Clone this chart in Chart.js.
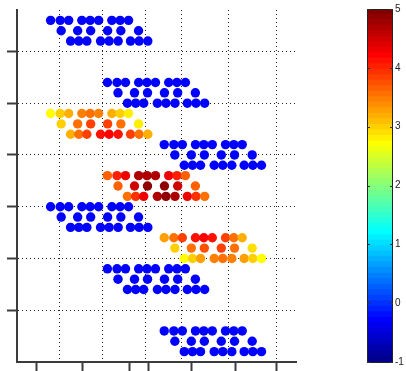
<!DOCTYPE html>
<html>
<head>
  <meta charset="UTF-8">
  <title>Blocks</title>
  <script src="https://cdn.jsdelivr.net/npm/chart.js"></script>
  <style>
    body { margin: 0; background: #fff; overflow: hidden; }
    #plot { position: absolute; left: 0; top: 0; }
    #cbar { position: absolute; left: 340px; top: 0; }
  </style>
</head>
<body>
  <canvas id="plot" width="406" height="371"></canvas>
  <canvas id="cbar" width="66" height="371"></canvas>

  <script>
    // axes
    const xRange = [0, 5.4];
    const yRange = [0, 6.8];
    const yTicks = [1, 2, 3, 4, 5, 6];
    const xGridLines = [0.832, 1.663, 2.495, 3.191, 4.101, 5.029];
    const xTicks = [0.368, 1.277, 2.186, 2.553, 3.385, 4.236, 5.029];

    // every block has three rows: 9 dots, 6 dots, 9 dots
    const topRow = [0, 0.186, 0.350, 0.605, 0.766, 0.930, 1.186, 1.346, 1.509];
    const midRow = [0.205, 0.524, 0.776, 1.104, 1.360, 1.702];
    const botRow = [0.387, 0.547, 0.702, 0.967, 1.133, 1.308, 1.547, 1.714, 1.882];
    const rowStep = 0.2;

    // left edge and top row of each block, top to bottom
    const blockX = [0.65, 1.75, 0.65, 2.85, 1.75, 0.65, 2.85, 1.75, 2.85];
    const blockY = [6.6, 5.4, 4.8, 4.2, 3.6, 3.0, 2.4, 1.8, 0.6];

    // colour values (top row, middle row, bottom row)
    const blueLevel = -0.3;
    const block3 = [2.7, 2.95, 3.2, 3.45, 3.5, 3.45, 3.2, 2.95, 2.75,
                    2.95, 3.5, 3.8, 3.8, 3.5, 2.8,
                    3.2, 3.5, 3.8, 4.1, 4.2, 4.1, 3.8, 3.5, 3.2];
    const block5 = [3.65, 4.0, 4.3, 4.65, 4.7, 4.65, 4.3, 4.0, 3.65,
                    3.65, 4.45, 4.85, 4.85, 4.45, 3.65,
                    3.5, 3.95, 4.3, 4.65, 4.85, 4.65, 4.3, 3.95, 3.5];
    const block7 = [3.3, 3.55, 3.85, 4.15, 4.2, 4.15, 3.85, 3.55, 3.2,
                    3.0, 3.55, 3.75, 3.8, 3.55, 2.9,
                    2.7, 3.0, 3.25, 3.45, 3.55, 3.45, 3.25, 3.0, 2.7];
    const blockValues = [null, null, block3, null, block5, null, block7, null, null];

    // colour scale
    const cMin = -1, cMax = 5;
    const cTicks = [-1, 0, 1, 2, 3, 4, 5];
    const nColors = 64;

    function jet(i) {
      const n = nColors / 4;
      const u = k => (k < 1 || k > 3 * n - 1) ? 0 : k <= n ? k / n : k <= 2 * n - 1 ? 1 : (3 * n - k) / n;
      const c = [u(i - 24), u(i - 8), u(i + 8)].map(t => Math.round(t * 255));
      return 'rgb(' + c.join(',') + ')';
    }
    function colorOf(v) {
      const i = Math.floor((v - cMin) / (cMax - cMin) * nColors) + 1;
      return jet(Math.min(nColors, Math.max(1, i)));
    }

    const points = [];
    blockX.forEach((bx, b) => {
      const vals = blockValues[b];
      let k = 0;
      [topRow, midRow, botRow].forEach((row, r) => {
        row.forEach(dx => {
          points.push({ x: bx + dx, y: blockY[b] - r * rowStep, v: vals ? vals[k] : blueLevel });
          k++;
        });
      });
    });

    const setTicks = list => scale => { scale.ticks = list.map(v => ({ value: v })); };

    new Chart(document.getElementById('plot'), {
      type: 'scatter',
      data: {
        datasets: [{
          data: points,
          pointRadius: 4.7,
          pointBorderWidth: 0,
          backgroundColor: ctx => colorOf(ctx.raw.v)
        }]
      },
      options: {
        responsive: false,
        animation: false,
        events: [],
        layout: { padding: { left: 7, top: 10, right: 110, bottom: 0 } },
        plugins: { legend: { display: false }, tooltip: { enabled: false } },
        scales: {
          x: {
            type: 'linear', min: xRange[0], max: xRange[1],
            afterBuildTicks: setTicks(xGridLines),
            ticks: { display: false },
            grid: { color: '#222', lineWidth: 1, drawTicks: false },
            border: { display: false, dash: [1, 3] }
          },
          x2: {
            type: 'linear', axis: 'x', position: 'bottom', min: xRange[0], max: xRange[1],
            afterBuildTicks: setTicks(xTicks),
            ticks: { display: false },
            grid: { drawOnChartArea: false, drawTicks: true, tickLength: 9, tickColor: '#3c3c3c', tickWidth: 2 },
            border: { display: true, color: '#3c3c3c', width: 2 }
          },
          y: {
            type: 'linear', min: yRange[0], max: yRange[1],
            afterBuildTicks: setTicks(yTicks),
            ticks: { display: false },
            grid: { color: '#222', lineWidth: 1, drawTicks: true, tickLength: 10,
                    tickColor: '#3c3c3c', tickWidth: 2, tickBorderDash: [] },
            border: { display: true, color: '#3c3c3c', width: 2, dash: [1, 3] }
          }
        }
      }
    });

    // colour bar
    const levels = [];
    for (let i = 1; i <= nColors; i++) levels.push(i);
    const step = (cMax - cMin) / nColors;

    const frame = {
      id: 'frame',
      afterDatasetsDraw(chart) {
        const { ctx, chartArea: a } = chart;
        const y = chart.scales.y;
        ctx.save();
        ctx.strokeStyle = '#222';
        ctx.lineWidth = 1;
        ctx.strokeRect(Math.round(a.left) + 0.5, Math.round(a.top) + 0.5,
                       Math.round(a.right - a.left) - 1, Math.round(a.bottom - a.top));
        ctx.strokeStyle = '#333';
        y.ticks.forEach(t => {
          const py = Math.round(y.getPixelForValue(t.value)) + 0.5;
          ctx.beginPath();
          ctx.moveTo(a.left, py); ctx.lineTo(a.left + 3, py);
          ctx.moveTo(a.right - 3, py); ctx.lineTo(a.right, py);
          ctx.stroke();
        });
        ctx.restore();
      }
    };

    new Chart(document.getElementById('cbar'), {
      type: 'bar',
      data: {
        labels: [''],
        datasets: levels.map(i => ({
          data: [[cMin + (i - 1) * step, cMin + i * step + 0.01]],
          backgroundColor: jet(i),
          borderWidth: 0,
          barPercentage: 1,
          categoryPercentage: 1,
          grouped: false
        }))
      },
      options: {
        responsive: false,
        animation: false,
        events: [],
        layout: { padding: { left: 27, top: 9, right: 0, bottom: 9 } },
        plugins: { legend: { display: false }, tooltip: { enabled: false } },
        scales: {
          x: { display: false },
          y: {
            position: 'right', min: cMin, max: cMax,
            afterBuildTicks: setTicks(cTicks),
            afterFit: s => { s.width = 13; },
            ticks: { padding: 2, color: '#222', font: { family: 'Liberation Sans', size: 10 } },
            grid: { drawOnChartArea: false, drawTicks: false },
            border: { display: false }
          }
        }
      },
      plugins: [frame]
    });
  </script>
</body>
</html>
